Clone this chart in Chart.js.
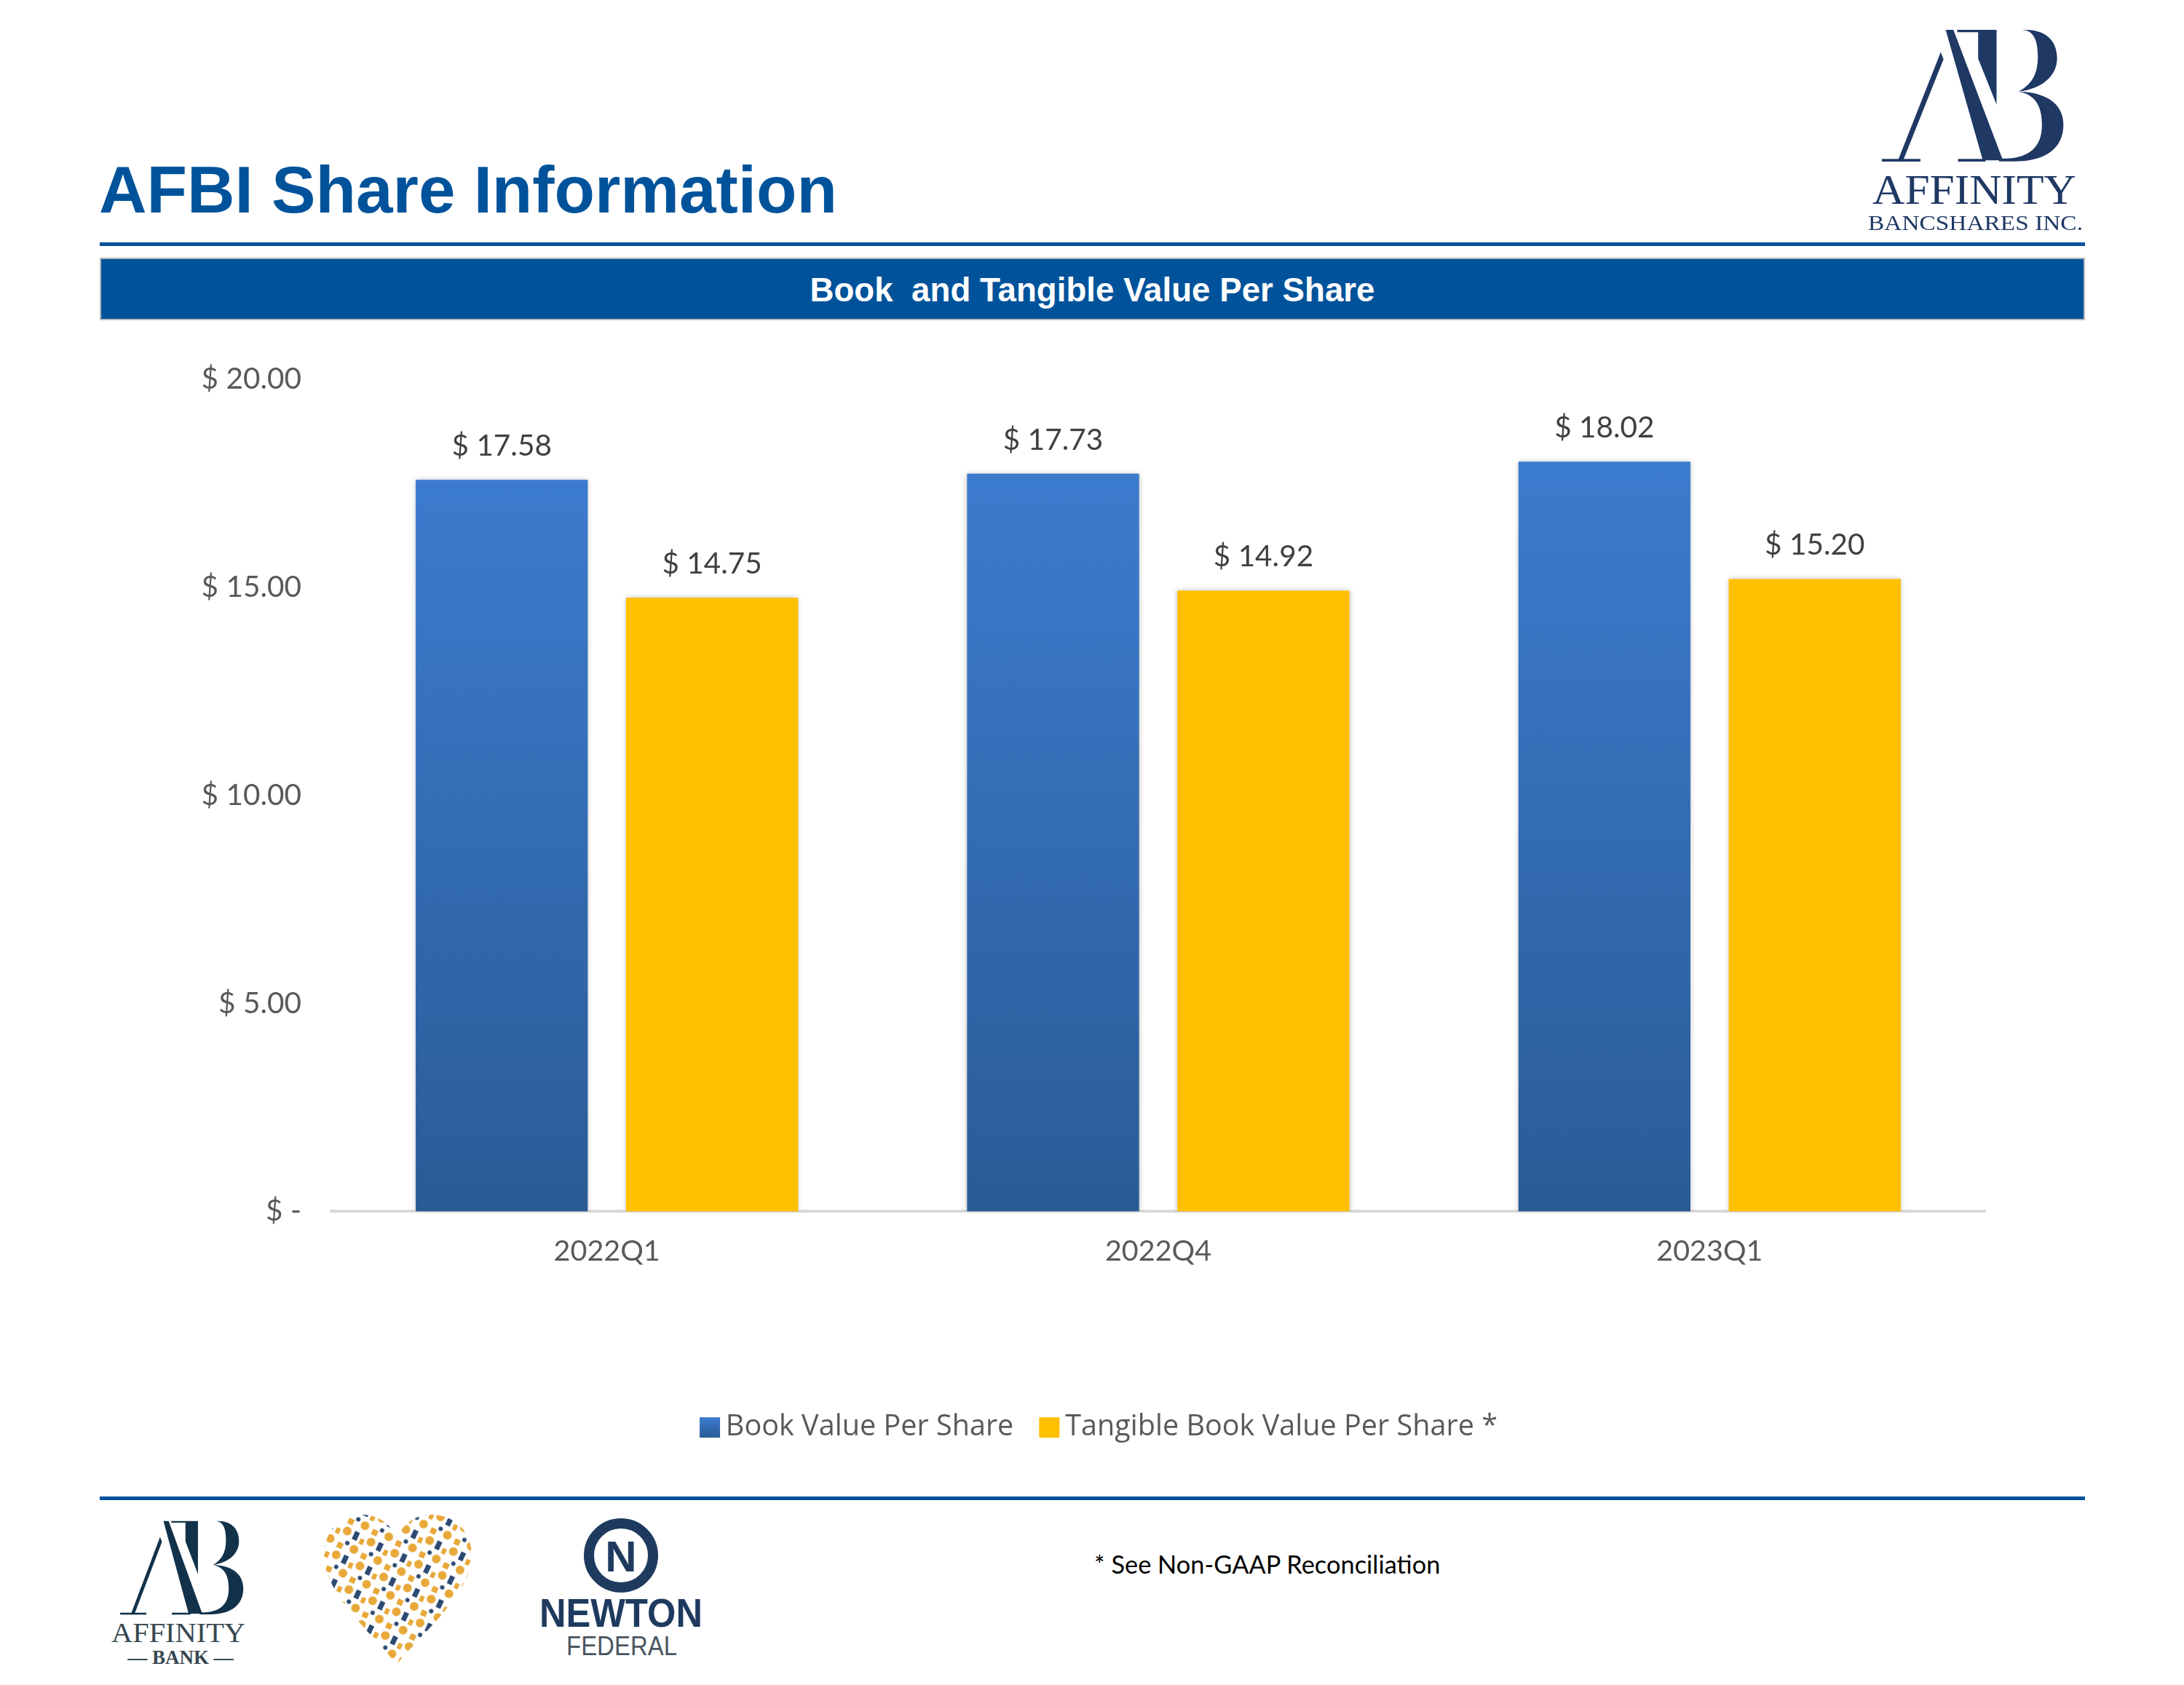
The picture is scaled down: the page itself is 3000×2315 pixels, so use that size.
<!DOCTYPE html>
<html>
<head>
<meta charset="utf-8">
<title>AFBI Share Information</title>
<script src="https://cdn.jsdelivr.net/npm/chart.js@4"></script>
<style>
  html, body { margin: 0; padding: 0; background: #fff; width: 3000px; height: 2315px; overflow: hidden; }
  #page { position: relative; width: 3000px; height: 2315px; }
  #chart_canvas { position: absolute; left: 0; top: 0; }
  .abs { position: absolute; }
  #title { left: 136px; top: 204px; font: bold 90.8px "Liberation Sans", sans-serif; color: #00539b; white-space: nowrap; line-height: 114px; }
  #rule_top { left: 137px; top: 333px; width: 2727px; height: 5px; background: #00539b; }
  #band { left: 137px; top: 354px; width: 2723px; height: 82px; background: #00539b; border: 2px solid #b5b8bb; color: #fff; font: bold 45.7px "Liberation Sans", sans-serif; text-align: center; line-height: 85px; white-space: pre; }
  #rule_bottom { left: 137px; top: 2056px; width: 2727px; height: 5px; background: #00539b; }
  #footnote { left: 1503px; top: 2128px; font: 34.4px "Lato", sans-serif; color: #000; white-space: nowrap; }
  svg.abs { overflow: visible; }
</style>
</head>
<body>
<div id="page">
  <div id="title" class="abs">AFBI Share Information</div>
  <div id="rule_top" class="abs"></div>
  <div id="band" class="abs">Book  and Tangible Value Per Share</div>
  <canvas id="chart_canvas" width="3000" height="1991"></canvas>
  <div id="rule_bottom" class="abs"></div>
  <div id="footnote" class="abs">* See Non-GAAP Reconciliation</div>

  <svg width="0" height="0" style="position:absolute">
    <defs>
      <symbol id="ab_mark" viewBox="470 120 675 550" preserveAspectRatio="none">
        <path d="M537 660 L692 215 L702 245 L556 660 Z"/>
        <rect x="478" y="656" width="140" height="11"/>
        <path d="M710 123 L738 123 L918 662 L845 662 Z"/>
        <rect x="755" y="656" width="100" height="11"/>
        <path d="M752 123 L895 123 L895 432 L828 242 L828 133 L752 133 Z"/>
        <path d="M895 123 L1000 123 C1085 123 1115 180 1115 240 C1115 310 1065 365 975 378 C1020 350 1045 310 1045 235 C1045 165 1030 123 985 123 Z"/>
        <path d="M975 378 C1090 382 1138 440 1138 515 C1138 610 1075 666 960 666 L905 666 L900 654 C1000 660 1060 620 1060 515 C1060 430 1030 390 975 378 Z"/>
      </symbol>
      <clipPath id="heart_clip">
        <path d="M104 208 C70 165 4 110 4 58 C4 22 30 2 56 2 C78 2 95 14 104 34 C113 14 130 2 152 2 C180 2 207 22 207 58 C207 110 138 165 104 208 Z"/>
      </clipPath>
      <pattern id="heart_tile" width="36" height="36" patternUnits="userSpaceOnUse" patternTransform="rotate(25)">
        <circle cx="7" cy="7" r="6" fill="#e8a93a"/>
        <rect x="17" y="2" width="7" height="12" fill="#2d4a73"/>
        <rect x="28" y="8" width="6" height="8" fill="#e8a93a"/>
        <circle cx="14" cy="22" r="3" fill="#2d4a73"/>
        <rect x="2" y="25" width="8" height="8" fill="#e8a93a"/>
        <circle cx="26" cy="26" r="6" fill="#e8a93a"/>
      </pattern>
    </defs>
  </svg>

  <!-- top right logo -->
  <svg class="abs" style="left:2582px;top:40px;fill:#1f3864" width="255" height="183"><use href="#ab_mark" width="255" height="183"/></svg>
  <svg class="abs" style="left:2560px;top:226px;fill:#1f3864" width="310" height="100">
    <text x="12" y="54" font-family="Liberation Serif" font-size="58" textLength="280" lengthAdjust="spacingAndGlyphs">AFFINITY</text>
    <text x="6" y="90" font-family="Liberation Serif" font-size="30" textLength="295" lengthAdjust="spacingAndGlyphs">BANCSHARES INC.</text>
  </svg>

  <!-- footer logos -->
  <svg class="abs" style="left:163px;top:2089px;fill:#12324a" width="173" height="130"><use href="#ab_mark" width="173" height="130"/></svg>
  <svg class="abs" style="left:148px;top:2226px;fill:#37474f" width="200" height="80">
    <text x="5" y="30" font-family="Liberation Serif" font-size="38" textLength="184" lengthAdjust="spacingAndGlyphs">AFFINITY</text>
    <text x="100" y="60" text-anchor="middle" font-family="Liberation Serif" font-weight="bold" font-size="27">— BANK —</text>
  </svg>
  <svg class="abs" style="left:441px;top:2079px" width="212" height="210">
    <g clip-path="url(#heart_clip)"><rect width="212" height="210" fill="url(#heart_tile)"/></g>
  </svg>
  <svg class="abs" style="left:736px;top:2085px" width="240" height="210">
    <circle cx="117" cy="52" r="44" fill="none" stroke="#1f3a5f" stroke-width="14"/>
    <text x="117" y="74" text-anchor="middle" font-family="Liberation Sans" font-weight="bold" font-size="60" fill="#1f3a5f">N</text>
    <text x="5" y="150" font-family="Liberation Sans" font-weight="bold" font-size="56" fill="#1f3a5f" textLength="224" lengthAdjust="spacingAndGlyphs">NEWTON</text>
    <text x="42" y="189" font-family="Liberation Sans" font-size="36" fill="#4a5560" textLength="152" lengthAdjust="spacingAndGlyphs">FEDERAL</text>
  </svg>
</div>

<script>
const CATEGORIES = [ '2022Q1', '2022Q4', '2023Q1' ];
const SERIES_NAMES = [ 'Book Value Per Share', 'Tangible Book Value Per Share *' ];
const BOOK_VALUE = [ 17.58, 17.73, 18.02 ];
const TANGIBLE_VALUE = [ 14.75, 14.92, 15.20 ];
const Y_TICKS = [ 0, 5, 10, 15, 20 ];

const FONT_FAMILY = 'Lato';
const TEXT_GREY = '#595959';
const BLUE_TOP = '#3c7cce';
const BLUE_BOTTOM = '#2a5b96';
const YELLOW = '#ffc000';
const LEGEND_BOX = 28;
const LEGEND_SHIFT = 13;

function format_money( value ) {
  return value === 0 ? '$ -' : '$ ' + value.toFixed( 2 );
}

function get_blue_gradient( ctx ) {
  const chart = ctx.chart;
  if ( !chart.chartArea || ctx.raw === undefined ) {
    return BLUE_TOP;
  }
  const y = chart.scales.y;
  const grad = chart.ctx.createLinearGradient( 0, y.getPixelForValue( ctx.raw ), 0, y.getPixelForValue( 0 ) );
  grad.addColorStop( 0, BLUE_TOP );
  grad.addColorStop( 1, BLUE_BOTTOM );
  return grad;
}

// value labels above the bars, soft shadow on the bars, legend boxes
const bar_extras = {
  id: 'bar_extras',
  afterLayout( chart ) {
    // legend sits a little right of the plot centre
    const legend = chart.legend;
    legend.left += LEGEND_SHIFT;
    legend.right += LEGEND_SHIFT;
    legend.legendHitBoxes.forEach( hit => { hit.left += LEGEND_SHIFT; } );
  },
  beforeDatasetsDraw( chart ) {
    chart.ctx.save();
    chart.ctx.shadowColor = 'rgba(0,0,0,0.28)';
    chart.ctx.shadowBlur = 7;
  },
  afterDatasetsDraw( chart ) {
    const c = chart.ctx;
    c.restore();
    c.save();
    c.font = '40.5px ' + FONT_FAMILY;
    c.fillStyle = '#404040';
    c.textAlign = 'center';
    c.textBaseline = 'middle';
    chart.data.datasets.forEach( ( ds, i ) => {
      chart.getDatasetMeta( i ).data.forEach( ( bar, j ) => {
        c.fillText( format_money( ds.data[ j ] ), bar.x, bar.y - 46 );
      } );
    } );
    c.restore();
  },
  afterDraw( chart ) {
    const c = chart.ctx;
    chart.legend.legendHitBoxes.forEach( ( hit, i ) => {
      const mid = hit.top + hit.height / 2;
      let fill = YELLOW;
      if ( i === 0 ) {
        fill = c.createLinearGradient( 0, mid - LEGEND_BOX / 2, 0, mid + LEGEND_BOX / 2 );
        fill.addColorStop( 0, BLUE_TOP );
        fill.addColorStop( 1, BLUE_BOTTOM );
      }
      c.save();
      c.fillStyle = fill;
      c.fillRect( hit.left, mid - LEGEND_BOX / 2, LEGEND_BOX, LEGEND_BOX );
      c.restore();
    } );
  }
};

new Chart( document.getElementById( 'chart_canvas' ), {
  type: 'bar',
  data: {
    labels: CATEGORIES,
    datasets: [
      { label: SERIES_NAMES[ 0 ], data: BOOK_VALUE, backgroundColor: get_blue_gradient },
      { label: SERIES_NAMES[ 1 ], data: TANGIBLE_VALUE, backgroundColor: YELLOW }
    ]
  },
  options: {
    responsive: false,
    devicePixelRatio: 1,
    animation: false,
    datasets: { bar: { categoryPercentage: 0.763, barPercentage: 0.818 } },
    layout: { padding: { left: 265, right: 273, top: 521, bottom: 0 } },
    plugins: {
      tooltip: { enabled: false },
      legend: {
        position: 'bottom',
        labels: {
          // boxWidth only sets the text offset here, boxes are painted in bar_extras
          boxWidth: 16,
          boxHeight: 28,
          padding: 35,
          color: TEXT_GREY,
          font: { family: 'Open Sans', size: 39.6 },
          generateLabels( chart ) {
            return chart.data.datasets.map( ( ds, i ) => ( {
              text: ds.label,
              fillStyle: 'transparent',
              strokeStyle: 'transparent',
              fontColor: TEXT_GREY,
              lineWidth: 0,
              datasetIndex: i
            } ) );
          }
        }
      }
    },
    scales: {
      x: {
        grid: { display: false },
        border: { color: '#d9d9d9', width: 4 },
        afterFit: scale => { scale.height = 242; },
        ticks: { color: TEXT_GREY, padding: 23, font: { family: FONT_FAMILY, size: 39.5 } }
      },
      y: {
        min: 0,
        max: 20,
        afterFit: scale => { scale.width = 190; },
        afterBuildTicks: scale => { scale.ticks = Y_TICKS.map( v => ( { value: v } ) ); },
        grid: { display: false, drawTicks: false },
        border: { display: false },
        ticks: { color: TEXT_GREY, padding: 41, callback: format_money, font: { family: FONT_FAMILY, size: 40.5 } }
      }
    }
  },
  plugins: [ bar_extras ]
} );
</script>
</body>
</html>
